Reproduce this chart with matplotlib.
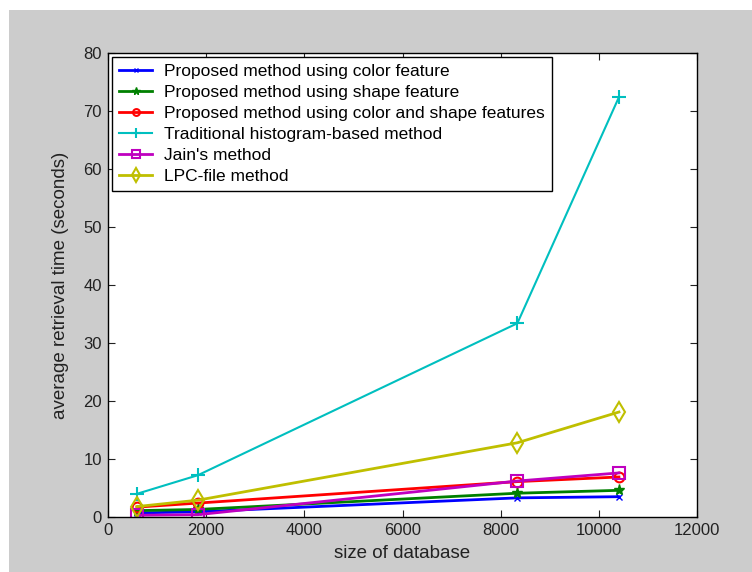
import matplotlib as mpl
mpl.use('Agg')
from matplotlib import pyplot as plt
from matplotlib.patches import Rectangle

## Data
db_size = [590, 1830, 8340, 10410]
color_feat = [0.7, 0.9, 3.3, 3.5]
shape_feat = [1.1, 1.3, 4.1, 4.6]
color_shape_feat = [1.7, 2.4, 6.1, 6.9]
histogram = [4.0, 7.2, 33.4, 72.4]
jain = [0.3, 0.4, 6.2, 7.6]
lpc_file = [1.8, 2.9, 12.8, 18.1]

labels = ['Proposed method using color feature',
          'Proposed method using shape feature',
          'Proposed method using color and shape features',
          'Traditional histogram-based method',
          "Jain's method",
          'LPC-file method']

plt.rcParams['font.family'] = ['Liberation Sans', 'DejaVu Sans']

fig = plt.figure(figsize=(7.52, 5.72), dpi=100, facecolor='white')
fig.patches.append(Rectangle((9/752, 0), 1, 1 - 10/572, transform=fig.transFigure,
                             facecolor='#cccccc', edgecolor='none', zorder=-1))
ax = fig.add_axes([108/752, 1 - 517/572, (697-108)/752, (517-53)/572])

ax.plot(db_size, color_feat, '-x', color='#0000ff', lw=2, ms=5, label=labels[0])
ax.plot(db_size, shape_feat, '-*', color='#008000', lw=2, ms=8, label=labels[1])
ax.plot(db_size, color_shape_feat, '-o', color='#ff0000', lw=2, ms=7, mfc='none',
        mew=1.5, label=labels[2])
ax.plot(db_size, histogram, '-+', color='#00bfbf', lw=1.5, ms=10, mew=1.5, label=labels[3])
ax.plot(db_size, jain, '-s', color='#bf00bf', lw=2, ms=9, mfc='none', mew=1.5, label=labels[4])
ax.plot(db_size, lpc_file, '-d', color='#bfbf00', lw=2, ms=10, mfc='none', mew=1.5, label=labels[5])

ax.set_xlim(0, 12000)
ax.set_ylim(0, 80)
ax.set_xticks(range(0, 12001, 2000))
ax.set_yticks(range(0, 81, 10))
ax.tick_params(direction='in', top=True, right=True, labelsize=12, length=5,
               colors='#222222', pad=4.5)
for s in ax.spines.values():
    s.set_linewidth(1)
ax.set_xlabel('size of database', fontsize=13.5, color='#222222', labelpad=5)
ax.set_ylabel('average retrieval time (seconds)', fontsize=13.5, color='#222222', labelpad=10)

leg = ax.legend(loc='upper left', fontsize=12.5, frameon=True, fancybox=False,
                edgecolor='black', framealpha=1, borderaxespad=0.25,
                handlelength=1.9, handletextpad=0.7, labelspacing=0.33,
                borderpad=0.4, markerscale=0.7)
leg.get_frame().set_linewidth(1)

fig.savefig('out.png', dpi=100, facecolor=fig.get_facecolor())
